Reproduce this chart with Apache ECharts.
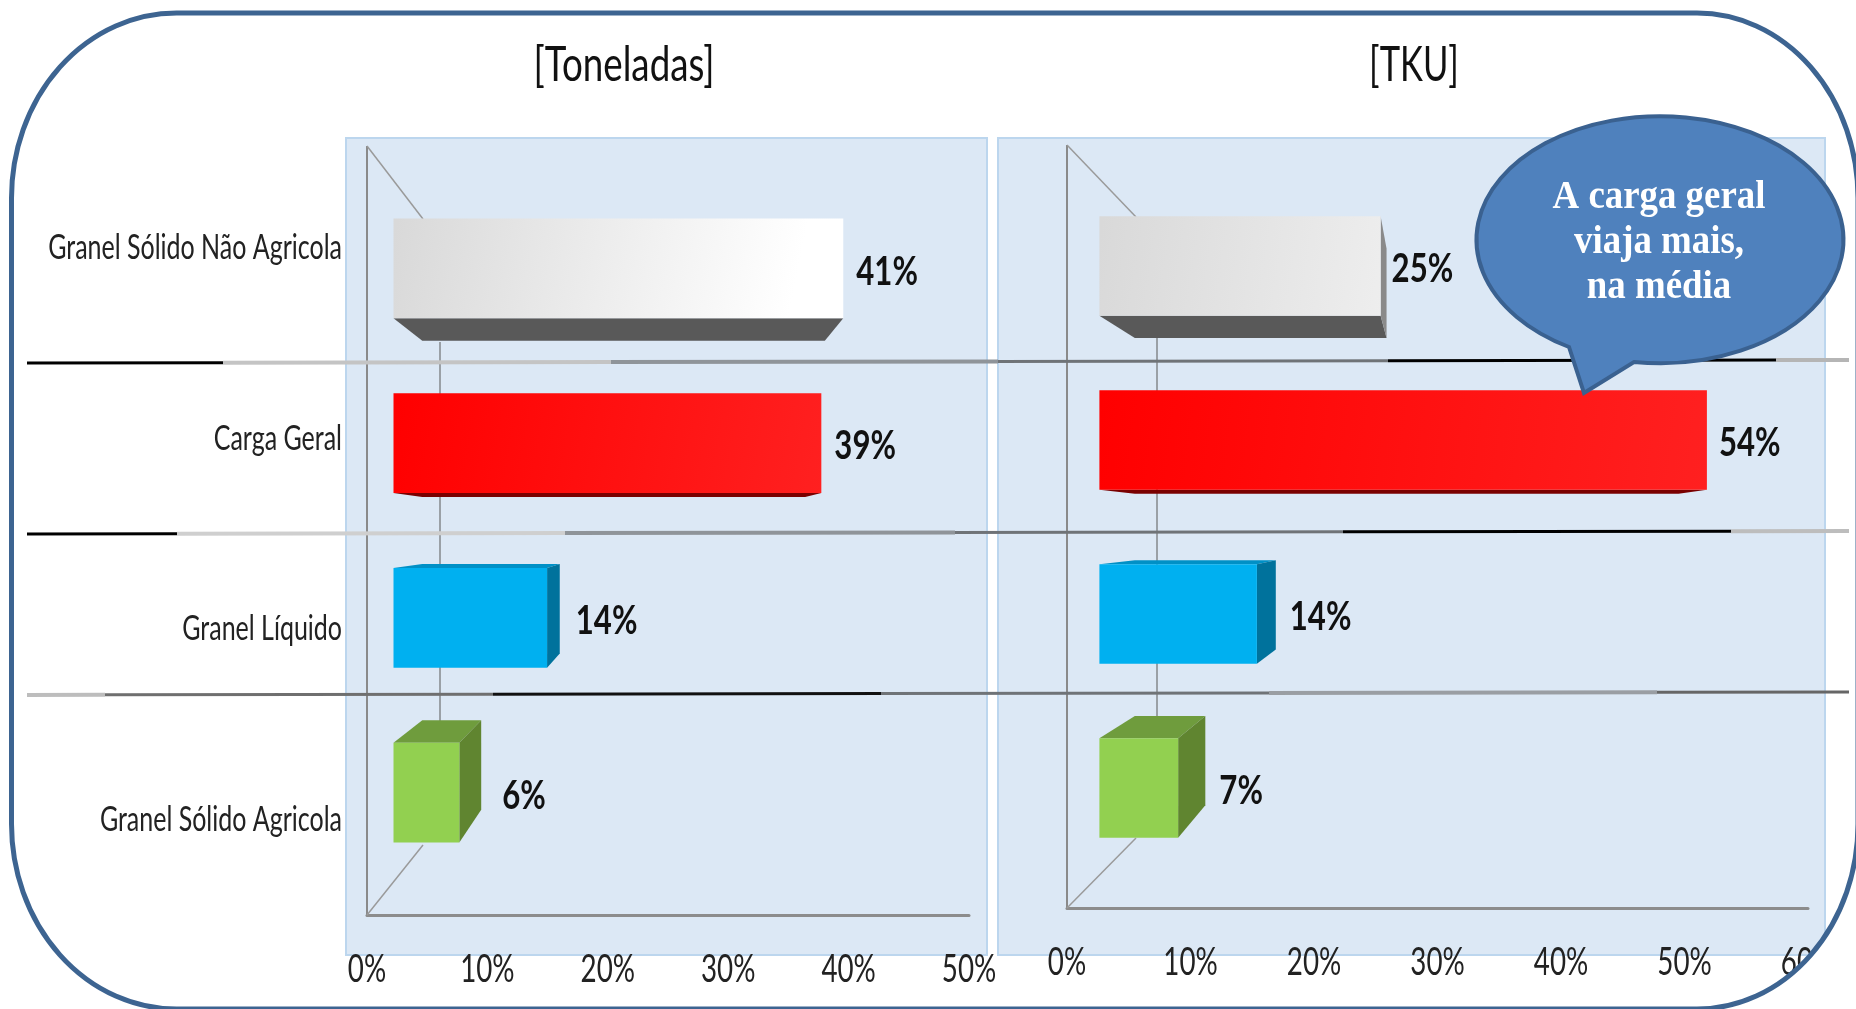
<!DOCTYPE html>
<html>
<head>
<meta charset="utf-8">
<style>html,body{margin:0;padding:0;background:#fff}#c{width:1856px;height:1009px}</style>
<script src="https://cdn.jsdelivr.net/npm/echarts@6/dist/echarts.min.js"></script>
</head>
<body>
<div id="c"></div>
<script>
// ---- data ----
const categories = ['Granel Sólido Não Agricola', 'Carga Geral', 'Granel Líquido', 'Granel Sólido Agricola'];
const toneladas = [41, 39, 14, 6];
const tku = [25, 54, 14, 7];
const ticksToneladas = [0, 10, 20, 30, 40, 50];
const ticksTku = [0, 10, 20, 30, 40, 50, 60];
const titles = ['[Toneladas]', '[TKU]'];
const calloutLines = ['A carga geral', 'viaja mais,', 'na média'];

// ---- styles ----
const frontStart = ['#d9d9d9', '#ff0000', '#00b0f0', '#92d050'];
const frontEnd = ['#ffffff', '#ff2020', '#00b0f0', '#92d050'];
const topFace = ['#8a8a8a', '#8b0000', '#0090c6', '#6f9c3d'];
const sideFace = ['#8a8a8a', '#8b0000', '#00729c', '#608530'];
const bottomFace = ['#595959', '#7a0000', '#00729c', '#608530'];
const FONT = 'Lato, "Open Sans", sans-serif';
const DEPTH = 0.105;

function squeezedText(x, y, text, font, fill, align, squeeze) {
  return {type: 'text', x, y, scaleX: squeeze, scaleY: 1,
    style: {x: 0, y: 0, text, fill, font, textAlign: align || 'center', textVerticalAlign: 'middle'}};
}

function barRenderer(fadeEnd, axisMax, gaps) {
  return function (params, api) {
    const i = api.value(1), v = api.value(0);
    const end = api.coord([v, i]), base = api.coord([0, i]);
    const h = api.size([0, 1])[1] * 0.572;
    const cs = params.coordSys;
    const vx = api.coord([axisMax / 2, i])[0], vy = cs.y + cs.height / 2;
    const x0 = base[0], x1 = end[0], y0 = end[1] - h / 2, y1 = end[1] + h / 2;
    const back = (x, y) => [x + DEPTH * (vx - x), y + DEPTH * (vy - y)];
    const kids = [];
    const face = (pts, fill) => kids.push({type: 'polygon', shape: {points: pts}, style: {fill}});
    if (y1 < vy) face([[x0, y1], [x1, y1], back(x1, y1), back(x0, y1)], bottomFace[i]);
    if (y0 > vy) face([[x0, y0], [x1, y0], back(x1, y0), back(x0, y0)], topFace[i]);
    if (x1 < vx) face([[x1, y0], back(x1, y0), back(x1, y1), [x1, y1]], sideFace[i]);
    const xf = api.coord([fadeEnd[i], i])[0];
    kids.push({
      type: 'rect', shape: {x: x0, y: y0, width: x1 - x0, height: h},
      style: {fill: new echarts.graphic.LinearGradient(x0, y0 + h * .2, xf, y1, [
        {offset: 0, color: frontStart[i]}, {offset: 1, color: frontEnd[i]}], true)}
    });
    const rightEdge = Math.max(x1, back(x1, y0)[0]);
    kids.push(squeezedText(rightEdge + gaps[i], end[1] + 3, v + '%', 'bold 41px ' + FONT, '#111', 'left', 0.76));
    return {type: 'group', children: kids};
  };
}
function tickRenderer(params, api) {
  const p = api.coord([api.value(0), 0]);
  const cs = params.coordSys;
  return squeezedText(p[0], cs.y + cs.height + 55, api.value(0) + '%', '38px ' + FONT, '#222', 'center', 0.73);
}
function categoryRenderer(params, api) {
  const p = api.coord([0, api.value(1)]);
  return squeezedText(p[0] - 25, p[1], categories[api.value(1)], '34px ' + FONT, '#222', 'right', 0.735);
}

function line(x1, y1, x2, y2, stroke, lineWidth) {
  return {type: 'line', z: 1, shape: {x1, y1, x2, y2}, style: {stroke, lineWidth}};
}
// separators are made of butted segments of different greys
function segments(y1, y2, stops) {
  const xa = 27, xb = 1849, out = [];
  for (let i = 0; i < stops.length - 1; i++) {
    const [a, col, w] = stops[i], b = stops[i + 1][0];
    const ya = y1 + (y2 - y1) * (a - xa) / (xb - xa), yb = y1 + (y2 - y1) * (b - xa) / (xb - xa);
    out.push(line(a, ya, b, yb, col, w));
  }
  return out;
}

const L = 11.5, T = 13, R = 1858, B = 1009, RXL = 165, RXR = 161, RY = 185;
const framePath = `M${L + RXL} ${T} L${R - RXR} ${T} A${RXR} ${RY} 0 0 1 ${R} ${T + RY} L${R} ${B - RY} A${RXR} ${RY} 0 0 1 ${R - RXR} ${B} L${L + RXL} ${B} A${RXL} ${RY} 0 0 1 ${L} ${B - RY} L${L} ${T + RY} A${RXL} ${RY} 0 0 1 ${L + RXL} ${T} Z`;
const outsidePath = `M-10 -10 L-10 1030 L1880 1030 L1880 -10 Z ` + framePath;
const calloutPath = 'M1569 347 A183.5 123.5 0 1 1 1634 362 L1584 393 Z';
echarts.graphic.registerShape('frameShape', echarts.graphic.extendPath(framePath));
echarts.graphic.registerShape('outsideShape', echarts.graphic.extendPath(outsidePath));
echarts.graphic.registerShape('calloutShape', echarts.graphic.extendPath(calloutPath));

const graphicEls = [
  {type: 'rect', z: -5, shape: {x: 346, y: 138, width: 641, height: 817}, style: {fill: '#dce8f5', stroke: '#bcd6ee', lineWidth: 2}},
  {type: 'rect', z: -5, shape: {x: 998, y: 138, width: 827, height: 817}, style: {fill: '#dce8f5', stroke: '#bcd6ee', lineWidth: 2}},
  // perspective walls
  line(367, 146, 367, 160, '#8a8a8a', 2),
  line(367, 146, 423, 219, '#9a9a9a', 1.5),
  line(367, 915, 423, 845, '#9a9a9a', 1.5),
  line(440, 342, 440, 725, '#9aa0a6', 2),
  line(1067, 145, 1067, 160, '#8a8a8a', 2),
  line(1067, 145, 1136, 217, '#9a9a9a', 1.5),
  line(1067, 908, 1136, 838, '#9a9a9a', 1.5),
  line(1157, 338, 1157, 720, '#9aa0a6', 2),
  ...segments(363, 360, [[27, '#000', 3], [223, '#c4c4c4', 4], [611, '#8f9499', 4], [998, '#6f7377', 3], [1388, '#000', 3], [1776, '#b5b5b5', 4], [1849]]),
  ...segments(534, 531, [[27, '#000', 3], [177, '#cfcfcf', 4], [565, '#8f9499', 4], [955, '#6f7377', 3], [1343, '#000', 3], [1731, '#bdbdbd', 4], [1849]]),
  ...segments(695, 692, [[27, '#bdbdbd', 4], [105, '#6f6f6f', 3], [493, '#111', 3], [881, '#6f7377', 3], [1269, '#9a9ea3', 4], [1657, '#666', 3], [1849]]),
  // white outside the rounded frame, then the frame itself
  {type: 'outsideShape', z: 60, style: {fill: '#fff', stroke: null}},
  {type: 'frameShape', z: 61, style: {fill: null, stroke: '#3d6491', lineWidth: 5}},
  // callout
  {type: 'calloutShape', z: 70, style: {fill: '#4f81bd', stroke: '#3a6190', lineWidth: 4, lineJoin: 'miter'}},
  {type: 'text', z: 71, x: 1659, y: 243, scaleX: 0.945, style: {x: 0, y: 0, text: calloutLines.join('\n'), fill: '#fff',
    font: 'bold 39px "Liberation Serif", serif', lineHeight: 45, textAlign: 'center', textVerticalAlign: 'middle'}},
  {...squeezedText(624, 66, titles[0], '48px ' + FONT, '#111', 'center', 0.766), z: 5},
  {...squeezedText(1414, 66, titles[1], '48px ' + FONT, '#111', 'center', 0.72), z: 5}
];

function tickAxis(grid, max) {
  return [{
    type: 'value', gridIndex: grid, min: 0, max, interval: 10,
    axisLine: {show: true, lineStyle: {color: '#8c8c8c', width: 3}},
    axisTick: {show: false}, splitLine: {show: false}, axisLabel: {show: false}
  }, {
    type: 'category', gridIndex: grid, data: categories, inverse: true,
    axisLine: {show: true, onZero: false, lineStyle: {color: '#8a8a8a', width: 2}},
    axisTick: {show: false}, splitLine: {show: false}, axisLabel: {show: false}
  }];
}
function barAxis(grid, max) {
  return [{type: 'value', gridIndex: grid, min: 0, max, show: false},
          {type: 'category', gridIndex: grid, data: categories, inverse: true, show: false}];
}
const tl = tickAxis(0, 50), tr = tickAxis(2, 60), bl = barAxis(1, 50), br = barAxis(3, 60);

const option = {
  animation: false,
  backgroundColor: '#fff',
  grid: [
    {left: 367, top: 153, width: 602, height: 762},
    {left: 393.5, top: 181, width: 548.5, height: 699},
    {left: 1067, top: 146, width: 741, height: 762},
    {left: 1099.4, top: 179, width: 675, height: 696}
  ],
  xAxis: [tl[0], bl[0], tr[0], br[0]],
  yAxis: [tl[1], bl[1], tr[1], br[1]],
  series: [
    {type: 'custom', name: titles[0], xAxisIndex: 1, yAxisIndex: 1, clip: false, z: 5,
     encode: {x: 0, y: 1}, data: toneladas.map((v, i) => [v, i]),
     renderItem: barRenderer([36, 39, 14, 6], 50, [13, 13, 16, 21])},
    {type: 'custom', name: titles[1], xAxisIndex: 3, yAxisIndex: 3, clip: false, z: 5,
     encode: {x: 0, y: 1}, data: tku.map((v, i) => [v, i]),
     renderItem: barRenderer([47, 54, 14, 7], 60, [5, 12, 14, 14])},
    {type: 'custom', name: 'ticks-t', xAxisIndex: 0, yAxisIndex: 0, clip: false, z: 4, silent: true,
     encode: {x: 0}, data: ticksToneladas.map(v => [v, 0]), renderItem: tickRenderer},
    {type: 'custom', name: 'ticks-k', xAxisIndex: 2, yAxisIndex: 2, clip: false, z: 4, silent: true,
     encode: {x: 0}, data: ticksTku.map(v => [v, 0]), renderItem: tickRenderer},
    {type: 'custom', name: 'categories', xAxisIndex: 0, yAxisIndex: 0, clip: false, z: 4, silent: true,
     encode: {y: 1}, data: categories.map((c, i) => [0, i]), renderItem: categoryRenderer}
  ],
  graphic: {elements: graphicEls}
};
const chart = echarts.init(document.getElementById('c'), null, {renderer: 'canvas'});
chart.setOption(option);
</script>
</body>
</html>
